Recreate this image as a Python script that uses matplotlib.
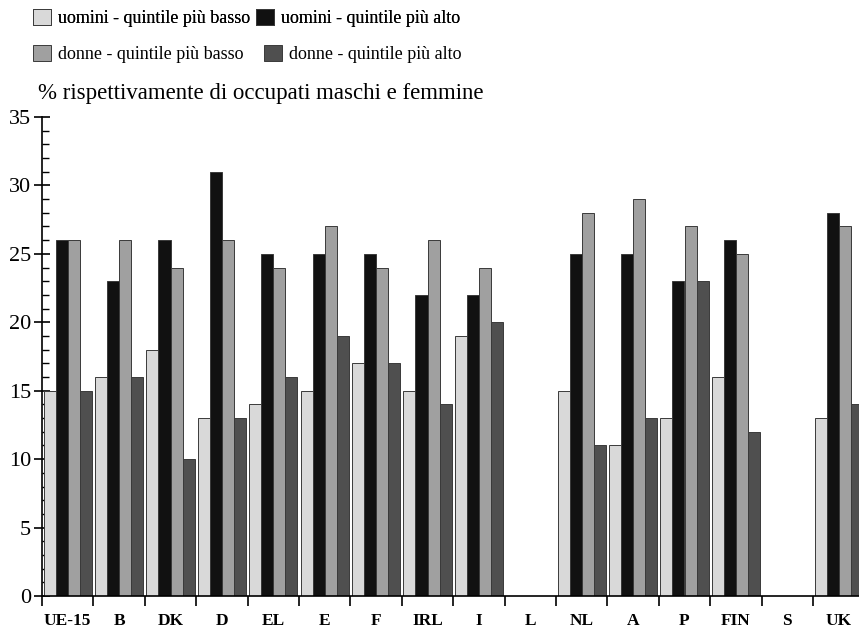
import matplotlib.pyplot as plt
import numpy as np

plt.rcParams['font.family'] = ['Liberation Serif', 'DejaVu Serif']

# Data
paesi = ['UE-15', 'B', 'DK', 'D', 'EL', 'E', 'F', 'IRL', 'I', 'L', 'NL', 'A', 'P', 'FIN', 'S', 'UK']
uomini_basso = [15, 16, 18, 13, 14, 15, 17, 15, 19, np.nan, 15, 11, 13, 16, np.nan, 13]
uomini_alto = [26, 23, 26, 31, 25, 25, 25, 22, 22, np.nan, 25, 25, 23, 26, np.nan, 28]
donne_basso = [26, 26, 24, 26, 24, 27, 24, 26, 24, np.nan, 28, 29, 27, 25, np.nan, 27]
donne_alto = [15, 16, 10, 13, 16, 19, 17, 14, 20, np.nan, 11, 13, 23, 12, np.nan, 14]

serie = [
    ('uomini - quintile più basso', uomini_basso, '#d9d9d9'),
    ('uomini - quintile più alto', uomini_alto, '#111111'),
    ('donne - quintile più basso', donne_basso, '#a0a0a0'),
    ('donne - quintile più alto', donne_alto, '#4f4f4f'),
]

fig = plt.figure(figsize=(8.59, 6.31), dpi=100)
ax = fig.add_axes([42 / 859, 35 / 631, 817 / 859, 479 / 631])

x = np.arange(len(paesi))
w = 0.235
handles = []
for i, (lab, vals, col) in enumerate(serie):
    b = ax.bar(x + 0.03 + i * w, vals, width=w, align='edge', color=col,
               edgecolor='#3a3a3a', linewidth=0.7, label=lab, zorder=2)
    handles.append(b)

ax.set_ylim(0, 35)
ax.set_xlim(0, 817 / 51.4)
ax.set_yticks(range(0, 36, 5))
ax.set_yticks(range(0, 36), minor=True)
ax.tick_params(axis='y', which='major', direction='inout', length=12, width=1.2,
               labelsize=16, pad=2)
ax.tick_params(axis='y', which='minor', direction='in', length=5, width=1.0)

ax.set_xticks(np.arange(len(paesi)))
ax.set_xticklabels([])
ax.set_xticks(x + 0.5, minor=True)
ax.set_xticklabels(paesi, minor=True, fontsize=12.5, fontweight='bold')
ax.tick_params(axis='x', which='major', direction='out', length=7, width=1.2)
ax.tick_params(axis='x', which='minor', length=0, pad=12)

for s in ['top', 'right']:
    ax.spines[s].set_visible(False)
ax.spines['left'].set_linewidth(1.2)
ax.spines['bottom'].set_linewidth(1.2)

leg1 = fig.legend(handles[:2], [s[0] for s in serie[:2]], loc='center left',
                  bbox_to_anchor=(33 / 859, 1 - 18 / 631), ncol=2, frameon=False,
                  fontsize=13, handlelength=1.0, handleheight=1.0,
                  handletextpad=0.4, columnspacing=0.3, borderaxespad=0, borderpad=0)
leg2 = fig.legend(handles[2:], [s[0] for s in serie[2:]], loc='center left',
                  bbox_to_anchor=(33 / 859, 1 - 54 / 631), ncol=2, frameon=False,
                  fontsize=13, handlelength=1.0, handleheight=1.0,
                  handletextpad=0.4, columnspacing=1.1, borderaxespad=0, borderpad=0)
fig.add_artist(leg1)

fig.text(38 / 859, 1 - 93 / 631, '% rispettivamente di occupati maschi e femmine',
         fontsize=16.5, va='center', ha='left')

fig.savefig('out.png', dpi=100)
